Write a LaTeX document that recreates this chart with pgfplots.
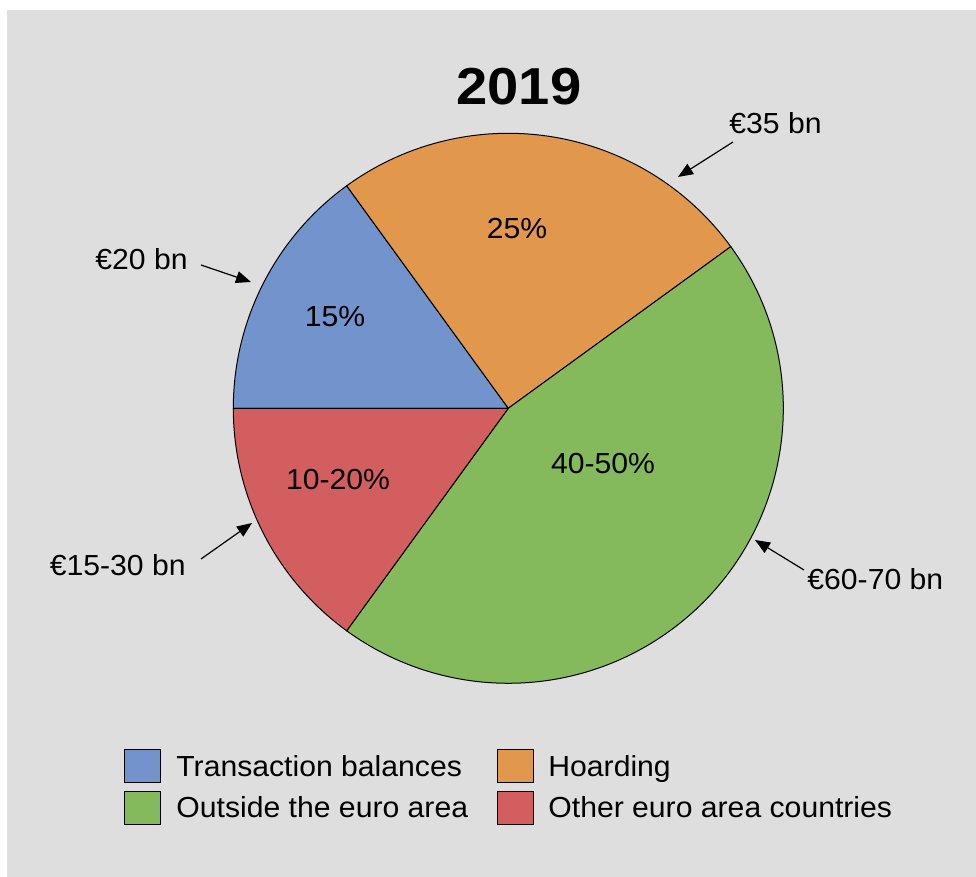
\documentclass[border=0pt]{standalone}
\usepackage{fontspec}
\setmainfont[FakeStretch=1.04]{Liberation Sans}
\newfontfamily\titlefont[FakeStretch=1.08]{Liberation Sans}
\usepackage{pgfplots}
\pgfplotsset{compat=1.18}
\usetikzlibrary{arrows.meta}

\definecolor{bgGray}{HTML}{DEDEDE}
\definecolor{cBlue}{HTML}{7293CB}
\definecolor{cOrange}{HTML}{E1974C}
\definecolor{cGreen}{HTML}{84BA5B}
\definecolor{cRed}{HTML}{D35E60}

% shares in percent, drawn clockwise from the left (180 deg)
\def\sBlue{15}
\def\sOrange{25}
\def\sGreen{45}
\def\sRed{15}
\pgfmathsetmacro\aA{180}
\pgfmathsetmacro\aB{\aA-3.6*\sBlue}
\pgfmathsetmacro\aC{\aB-3.6*\sOrange}
\pgfmathsetmacro\aD{\aC-3.6*\sGreen}
\pgfmathsetmacro\aE{\aD-3.6*\sRed}

% pixel frame: 1 px = 0.5pt, y measured upwards
\def\cx{508.3}
\def\cy{468.7}
\def\R{137.5pt}

\newcommand{\slice}[3]{%
  \filldraw[fill=#1, draw=black, line width=0.5pt]
    (axis cs:\cx,\cy) -- ([shift={(#2:\R)}]axis cs:\cx,\cy)
    arc[start angle=#2, end angle=#3, radius=\R] -- cycle;}

\begin{document}
\begin{tikzpicture}
\begin{axis}[
    scale only axis,
    width=488pt, height=438.5pt,
    xmin=0, xmax=976, ymin=0, ymax=877,
    hide axis, clip=false,
    font=\fontsize{14.5}{17}\selectfont,
]
\fill[white] (axis cs:0,0) rectangle (axis cs:976,877);
\fill[bgGray] (axis cs:7,0) rectangle (axis cs:976,867);

\slice{cBlue}{\aA}{\aB}
\slice{cOrange}{\aB}{\aC}
\slice{cGreen}{\aC}{\aD}
\slice{cRed}{\aD}{\aE}

% title
\node[font=\titlefont\fontsize{26}{30}\selectfont\bfseries, anchor=base] at (axis cs:519,772) {2019};

% percentages inside slices
\node[anchor=base] at (axis cs:335,550) {15\%};
\node[anchor=base] at (axis cs:517,638) {25\%};
\node[anchor=base] at (axis cs:603,403) {40-50\%};
\node[anchor=base] at (axis cs:338,387) {10-20\%};

% amounts with arrows
\tikzset{ann/.style={-{Triangle[length=7.5pt,width=6pt]}, line width=0.6pt}}
\node[anchor=base west, inner sep=0pt] at (axis cs:729,743) {€35 bn};
\draw[ann] (axis cs:733,735) -- (axis cs:678,700);
\node[anchor=base east, inner sep=0pt] at (axis cs:188,607) {€20 bn};
\draw[ann] (axis cs:201,612) -- (axis cs:251,595);
\node[anchor=base east, inner sep=0pt] at (axis cs:186,301) {€15-30 bn};
\draw[ann] (axis cs:201,318) -- (axis cs:252,354);
\node[anchor=base west, inner sep=0pt] at (axis cs:807,287) {€60-70 bn};
\draw[ann] (axis cs:804,307) -- (axis cs:755,337);

% legend
\filldraw[fill=cBlue, draw=black, line width=0.5pt] (axis cs:124,94) rectangle (axis cs:160,127);
\node[anchor=base west, inner sep=0pt] at (axis cs:176,100) {Transaction balances};
\filldraw[fill=cOrange, draw=black, line width=0.5pt] (axis cs:497,94) rectangle (axis cs:533,127);
\node[anchor=base west, inner sep=0pt] at (axis cs:548,100) {Hoarding};
\filldraw[fill=cGreen, draw=black, line width=0.5pt] (axis cs:124,52) rectangle (axis cs:160,85);
\node[anchor=base west, inner sep=0pt] at (axis cs:176,59) {Outside the euro area};
\filldraw[fill=cRed, draw=black, line width=0.5pt] (axis cs:497,52) rectangle (axis cs:533,85);
\node[anchor=base west, inner sep=0pt] at (axis cs:548,59) {Other euro area countries};
\end{axis}
\end{tikzpicture}
\end{document}
